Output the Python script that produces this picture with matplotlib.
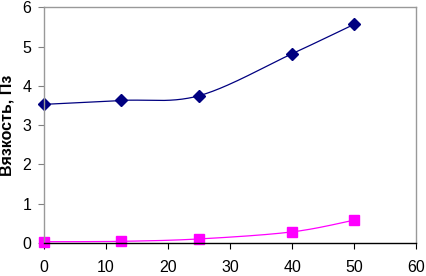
import matplotlib.pyplot as plt
import numpy as np

temperature = [0, 12.5, 25, 40, 50]
viscosity_top = [3.53, 3.63, 3.75, 4.82, 5.57]
viscosity_bottom = [0.03, 0.04, 0.10, 0.28, 0.58]

x_ticks = [0, 10, 20, 30, 40, 50, 60]
y_ticks = [0, 1, 2, 3, 4, 5, 6]
y_label = 'Вязкость, Пз'


def smooth(xs, ys, n=40):
    # Excel-style smoothed line: Bezier pieces with Catmull-Rom control points
    p = np.column_stack([xs, ys]).astype(float)
    scale = np.array([1 / 60.0, 1 / 6.0 * 0.63])
    q = p * scale
    out = []
    for i in range(len(q) - 1):
        p0 = q[i - 1] if i > 0 else q[i]
        p1, p2 = q[i], q[i + 1]
        p3 = q[i + 2] if i + 2 < len(q) else q[i + 1]
        c1 = p1 + (p2 - p0) / 6
        c2 = p2 - (p3 - p1) / 6
        t = np.linspace(0, 1, n)[:, None]
        seg = ((1 - t) ** 3) * p1 + 3 * ((1 - t) ** 2) * t * c1 + 3 * (1 - t) * t ** 2 * c2 + t ** 3 * p2
        out.append(seg)
    pts = np.vstack(out) / scale
    return pts[:, 0], pts[:, 1]


plt.rcParams['font.family'] = ['Liberation Sans', 'DejaVu Sans']

fig = plt.figure(figsize=(4.26, 2.76), dpi=100)
ax = fig.add_axes([0.103, 0.12, 0.874, 0.853])

sx, sy = smooth(temperature, viscosity_top)
ax.plot(sx, sy, color='#000080', lw=0.9)
ax.plot(temperature, viscosity_top, 'D', color='#000080', ms=6, clip_on=False)

sx, sy = smooth(temperature, viscosity_bottom)
ax.plot(sx, sy, color='#FF00FF', lw=0.9)
ax.plot(temperature, viscosity_bottom, 's', color='#FF00FF', ms=6.5, clip_on=False)

ax.set_xlim(0, 60)
ax.set_ylim(0, 6)
ax.set_xticks(x_ticks)
ax.set_yticks(y_ticks)
ax.tick_params(labelsize=11.5, length=4, width=0.8, color='#808080')
ax.tick_params(axis='x', pad=8, color='black')
ax.tick_params(axis='y', pad=5)
ax.set_ylabel(y_label, fontsize=11.5, fontweight='bold')
ax.yaxis.set_label_coords(-0.08, 0.5)

for side in ['left', 'top', 'right']:
    ax.spines[side].set_color('#999999')
    ax.spines[side].set_linewidth(1.0)
ax.spines['bottom'].set_color('black')
ax.spines['bottom'].set_linewidth(1.0)

fig.savefig('out.png', dpi=100)
